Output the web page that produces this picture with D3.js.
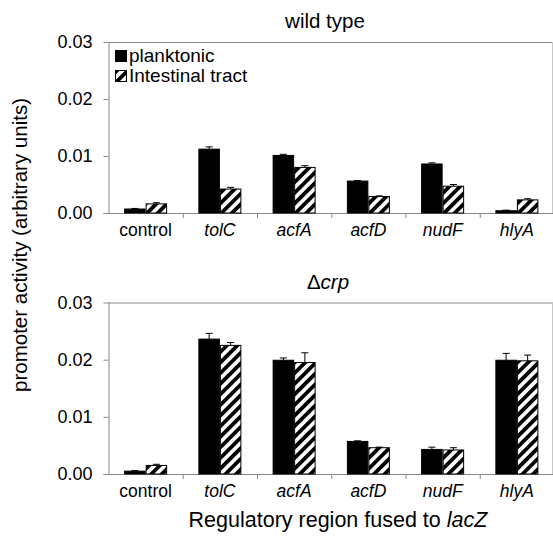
<!DOCTYPE html>
<html>
<head>
<meta charset="utf-8">
<script src="https://cdn.jsdelivr.net/npm/d3@7"></script>
<style>
  body { margin: 0; background: #fff; }
  svg { font-family: "Liberation Sans", Arial, sans-serif; }
  .axis path, .axis line { stroke: #878787; }
  .axis text { fill: #000; }
</style>
</head>
<body>
<div id="chart"></div>
<script>
var categories = ['control', 'tolC', 'acfA', 'acfD', 'nudF', 'hlyA'];
var series = ['planktonic', 'Intestinal tract'];
var yTicks = [0, 0.01, 0.02, 0.03];

// wild type panel
var wtPlanktonic = [0.0007, 0.0112, 0.0101, 0.0056, 0.0086, 0.0004];
var wtPlanktonicErr = [0.0001, 0.0004, 0.0002, 0.0001, 0.0002, 0.0001];
var wtIntestinal = [0.0016, 0.0042, 0.0080, 0.0029, 0.0047, 0.0023];
var wtIntestinalErr = [0.0002, 0.0003, 0.0003, 0.0001, 0.0003, 0.0002];

// delta crp panel
var crpPlanktonic = [0.0005, 0.0236, 0.0199, 0.0057, 0.0043, 0.0199];
var crpPlanktonicErr = [0.0001, 0.0010, 0.0004, 0.0001, 0.0004, 0.0012];
var crpIntestinal = [0.0015, 0.0225, 0.0195, 0.0046, 0.0042, 0.0198];
var crpIntestinalErr = [0.0002, 0.0005, 0.0017, 0.0001, 0.0004, 0.0010];

var W = 553, H = 544;
var left = 108.5, right = 554;

var svg = d3.select('#chart').append('svg')
  .attr('width', W)
  .attr('height', H);

// diagonal hatch, coarse like the print
svg.append('defs').append('pattern')
  .attr('id', 'hatch')
  .attr('patternUnits', 'userSpaceOnUse')
  .attr('width', 7.5)
  .attr('height', 7.5)
  .attr('patternTransform', 'rotate(45)')
  .call(function(p) {
    p.append('rect').attr('width', 7.5).attr('height', 7.5).attr('fill', '#fff');
    p.append('rect').attr('width', 3.8).attr('height', 7.5).attr('fill', '#000');
  });

var x0 = d3.scaleBand().domain(categories).range([left, right]).padding(0);
var groupW = 43;
var x1 = d3.scaleBand().domain(series).range([0, groupW]);
var fills = {'planktonic': '#000', 'Intestinal tract': 'url(#hatch)'};

function panel(top, bottom, planktonic, pErr, intestinal, iErr) {
  var y = d3.scaleLinear().domain([0, 0.03]).range([bottom, top]);
  var g = svg.append('g');

  // frame top & right
  g.append('line').attr('x1', left).attr('x2', W).attr('y1', y(0.03) + 0.5).attr('y2', y(0.03) + 0.5)
    .attr('stroke', '#878787');
  g.append('line').attr('x1', 552.5).attr('x2', 552.5).attr('y1', y(0.03)).attr('y2', y(0))
    .attr('stroke', '#c8c8c8');

  g.append('g')
    .attr('class', 'axis y-axis')
    .attr('transform', 'translate(' + left + ',0)')
    .call(d3.axisLeft(y).tickValues(yTicks).tickFormat(d3.format('.2f'))
      .tickSize(5).tickSizeOuter(0).tickPadding(11))
    .call(function(a) {
      a.selectAll('text').style('font-size', '18px');
      a.select('.domain').attr('d', 'M0.5,' + y(0.03) + 'V' + y(0));
    });

  // x axis: line, boundary ticks, labels
  var xa = g.append('g').attr('class', 'axis x-axis');
  xa.append('line').attr('x1', left - 5).attr('x2', W).attr('y1', y(0) + 0.5).attr('y2', y(0) + 0.5);
  xa.selectAll('.bt')
    .data(categories)
    .enter().append('line')
    .attr('class', 'bt')
    .attr('x1', function(d) { return x0(d) + x0.bandwidth() + 0.5; })
    .attr('x2', function(d) { return x0(d) + x0.bandwidth() + 0.5; })
    .attr('y1', y(0)).attr('y2', y(0) + 5);
  xa.append('g')
    .attr('transform', 'translate(0,' + y(0) + ')')
    .call(d3.axisBottom(x0).tickSize(0).tickPadding(11))
    .call(function(a) {
      a.select('.domain').remove();
      a.selectAll('text').style('font-size', '17.5px')
        .style('font-style', function(d) { return d === 'control' ? 'normal' : 'italic'; });
    });

  var rows = categories.map(function(c, i) {
    return [
      {cat: c, s: series[0], v: planktonic[i], e: pErr[i]},
      {cat: c, s: series[1], v: intestinal[i], e: iErr[i]}
    ];
  });
  var off = (x0.bandwidth() - groupW) / 2;

  var groups = g.append('g').selectAll('.grp')
    .data(rows).enter().append('g')
    .attr('class', 'grp')
    .attr('transform', function(d) { return 'translate(' + (x0(d[0].cat) + off) + ',0)'; });

  // error bars (upper half only)
  groups.selectAll('.err').data(function(d) { return d; }).enter().append('path')
    .attr('class', 'err')
    .attr('d', function(d) {
      var cx = x1(d.s) + x1.bandwidth() / 2;
      return 'M' + cx + ',' + y(d.v) + 'V' + y(d.v + d.e) +
        'M' + (cx - 3.5) + ',' + y(d.v + d.e) + 'H' + (cx + 3.5);
    })
    .attr('stroke', '#000').attr('fill', 'none');

  groups.selectAll('.bar').data(function(d) { return d; }).enter().append('rect')
    .attr('class', 'bar')
    .attr('x', function(d) { return x1(d.s) + 0.5; })
    .attr('y', function(d) { return y(d.v); })
    .attr('width', x1.bandwidth() - 1)
    .attr('height', function(d) { return y(0) - y(d.v); })
    .attr('fill', function(d) { return fills[d.s]; })
    .attr('stroke', '#000')
    .attr('stroke-width', 1);

  return y;
}

panel(42, 213, wtPlanktonic, wtPlanktonicErr, wtIntestinal, wtIntestinalErr);
panel(302.5, 474, crpPlanktonic, crpPlanktonicErr, crpIntestinal, crpIntestinalErr);

// panel titles
svg.append('text').attr('x', 325).attr('y', 28).attr('text-anchor', 'middle')
  .style('font-size', '20.5px').text('wild type');
var t2 = svg.append('text').attr('x', 328).attr('y', 289).attr('text-anchor', 'middle')
  .style('font-size', '20.5px');
t2.append('tspan').text('\u0394');
t2.append('tspan').style('font-style', 'italic').text('crp');

// legend
var legend = svg.append('g').attr('transform', 'translate(115,50)');
series.forEach(function(s, i) {
  var row = legend.append('g').attr('transform', 'translate(0,' + (i * 20) + ')');
  row.append('rect').attr('x', 0.5).attr('y', 0.5).attr('width', 11).attr('height', 11)
    .attr('fill', fills[s]).attr('stroke', '#000');
  row.append('text').attr('x', 14).attr('y', 12).style('font-size', '19px').text(s);
});

// axis titles
svg.append('text')
  .attr('transform', 'translate(27,245) rotate(-90)')
  .attr('text-anchor', 'middle')
  .style('font-size', '20.5px')
  .text('promoter activity (arbitrary units)');

var xt = svg.append('text').attr('x', 338).attr('y', 527).attr('text-anchor', 'middle')
  .style('font-size', '21.5px');
xt.append('tspan').text('Regulatory region fused to ');
xt.append('tspan').style('font-style', 'italic').text('lacZ');
</script>
</body>
</html>
